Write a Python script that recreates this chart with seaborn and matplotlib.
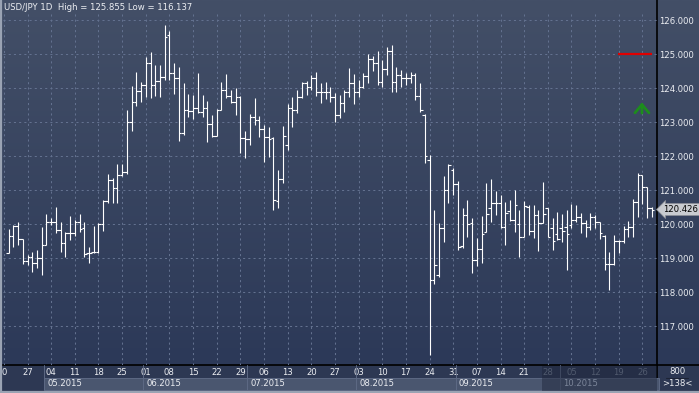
import matplotlib
matplotlib.use("Agg")
import numpy as np
import pandas as pd
import matplotlib.pyplot as plt
import matplotlib.transforms as mtransforms
from matplotlib.patches import Rectangle
import seaborn as sns

# ---------------- data ----------------
title = "USD/JPY 1D  High = 125.855 Low = 116.137"
start_date = "2015-04-21"

opens = [119.16, 119.66, 119.94, 119.56, 118.92, 119.02, 118.86, 118.99, 119.38, 120.07,
         120.07, 119.82, 119.45, 119.73, 119.75, 120.07, 119.87, 119.14, 119.17, 119.17,
         119.99, 120.69, 121.29, 121.05, 121.44, 121.54, 123.00, 123.60, 123.90, 124.10,
         124.75, 124.10, 124.20, 124.33, 125.55, 124.43, 124.30, 122.67, 123.35, 123.33,
         123.40, 123.30, 123.40, 122.93, 122.60, 123.35, 123.94, 123.76, 123.60, 123.75,
         122.52, 122.50, 123.14, 123.06, 122.79, 122.55, 122.52, 120.69, 121.31, 122.32,
         123.40, 123.35, 123.75, 124.14, 124.02, 124.28, 123.89, 123.89, 123.89, 123.75,
         123.20, 123.57, 123.89, 124.14, 123.89, 124.04, 124.35, 124.84, 124.73, 124.19,
         124.55, 125.10, 124.19, 124.38, 124.28, 124.28, 124.38, 123.77, 123.20, 121.88,
         118.35, 118.50, 119.87, 121.00, 121.59, 121.18, 119.35, 120.26, 120.02, 118.94,
         119.26, 119.77, 120.46, 120.61, 120.61, 119.90, 120.39, 120.12, 119.99, 119.61,
         120.51, 119.79, 120.26, 120.04, 120.46, 119.87, 119.72, 119.87, 119.90, 119.97,
         120.12, 120.22, 120.04, 119.92, 120.22, 120.07, 119.65, 118.82, 118.82, 119.51,
         119.51, 119.84, 119.92, 120.66, 121.44, 121.08, 120.46]
highs = [119.84, 119.97, 120.07, 119.56, 119.09, 119.19, 119.24, 119.90, 120.29, 120.17,
         120.49, 120.07, 119.77, 120.24, 120.12, 120.29, 120.07, 119.33, 119.94, 120.04,
         120.70, 121.47, 121.34, 121.76, 121.76, 123.35, 124.06, 124.48, 124.19, 124.92,
         125.07, 124.68, 124.68, 125.855, 125.68, 124.73, 124.63, 124.16, 123.82, 123.80,
         124.43, 123.80, 123.63, 123.20, 123.37, 124.19, 124.40, 123.94, 123.99, 123.76,
         122.75, 123.25, 123.70, 123.18, 122.91, 122.86, 122.57, 121.59, 122.88, 123.53,
         123.75, 123.94, 124.19, 124.20, 124.38, 124.46, 124.14, 124.19, 124.04, 123.84,
         123.79, 123.94, 124.60, 124.40, 124.24, 124.43, 125.00, 124.94, 125.10, 124.82,
         125.22, 125.27, 124.63, 124.53, 124.43, 124.48, 124.45, 124.14, 123.23, 122.03,
         120.41, 120.02, 121.41, 121.76, 121.64, 121.26, 120.46, 120.71, 120.17, 119.58,
         120.23, 121.22, 121.31, 120.97, 120.85, 120.66, 120.72, 121.00, 120.41, 120.68,
         120.56, 120.56, 120.41, 121.24, 120.46, 120.17, 120.36, 120.29, 120.41, 120.58,
         120.56, 120.31, 120.12, 120.33, 120.26, 120.07, 119.68, 119.19, 119.68, 119.53,
         119.94, 120.10, 120.75, 121.49, 121.44, 121.08, 120.51]
lows = [119.14, 119.33, 119.38, 118.82, 118.79, 118.60, 118.70, 118.50, 119.38, 119.97,
        119.75, 119.19, 119.04, 119.53, 119.65, 119.77, 119.02, 118.86, 119.16, 119.16,
        119.79, 120.61, 120.63, 120.63, 121.42, 121.47, 122.75, 123.47, 123.60, 123.75,
        123.72, 123.76, 123.75, 124.25, 124.25, 123.82, 122.45, 122.62, 123.14, 123.10,
        123.27, 123.16, 122.42, 122.55, 122.60, 123.35, 123.70, 123.55, 123.20, 122.10,
        121.93, 122.32, 122.91, 122.57, 121.83, 121.98, 120.41, 120.46, 121.22, 122.18,
        122.84, 123.26, 123.70, 123.80, 123.94, 123.77, 123.55, 123.67, 123.60, 123.01,
        123.11, 123.30, 123.75, 123.53, 123.75, 124.00, 124.14, 124.51, 124.09, 124.04,
        124.38, 123.89, 123.89, 124.04, 124.09, 124.14, 123.65, 123.30, 121.80, 116.137,
        118.25, 118.45, 119.48, 120.63, 120.85, 119.23, 119.28, 119.63, 118.57, 118.76,
        118.84, 119.77, 120.07, 120.26, 119.87, 119.38, 120.10, 119.77, 119.04, 119.61,
        119.68, 119.58, 119.22, 120.02, 119.63, 119.23, 119.53, 119.48, 118.65, 119.87,
        120.07, 119.73, 119.61, 119.82, 119.87, 119.55, 118.65, 118.06, 118.79, 119.14,
        119.43, 119.61, 119.61, 120.22, 120.59, 120.17, 120.22]
closes = [119.66, 119.94, 119.56, 118.92, 119.02, 118.86, 118.99, 119.38, 120.07, 120.07,
          119.82, 119.45, 119.73, 119.75, 120.07, 119.84, 119.13, 119.14, 119.17, 119.99,
          120.69, 121.29, 121.05, 121.44, 121.54, 123.00, 123.60, 123.90, 124.10, 124.75,
          124.10, 124.20, 124.33, 125.50, 124.43, 124.30, 122.67, 123.35, 123.33, 123.40,
          123.30, 123.40, 122.93, 122.60, 123.35, 123.94, 123.76, 123.60, 123.75, 122.52,
          122.50, 123.14, 123.06, 122.79, 122.55, 122.50, 120.70, 121.31, 122.60, 123.40,
          123.35, 123.75, 124.14, 124.02, 124.28, 123.89, 123.89, 123.89, 123.75, 123.20,
          123.57, 123.89, 124.14, 123.89, 124.04, 124.35, 124.84, 124.73, 124.19, 124.55,
          125.10, 124.19, 124.38, 124.28, 124.28, 124.38, 123.77, 123.35, 122.00, 118.35,
          118.79, 119.87, 121.00, 121.73, 121.18, 119.33, 120.26, 119.99, 118.94, 119.26,
          119.70, 120.29, 120.61, 120.61, 119.90, 120.31, 120.12, 120.55, 119.61, 120.54,
          119.79, 120.26, 120.04, 120.29, 119.63, 119.51, 119.55, 119.79, 119.70, 120.12,
          120.22, 120.04, 119.92, 120.22, 120.07, 119.73, 118.82, 118.82, 119.51, 119.51,
          119.84, 119.92, 120.66, 121.44, 121.08, 120.46, 120.426]

price_ticks = [117, 118, 119, 120, 121, 122, 123, 124, 125, 126]
day_labels = ["0", "27", "04", "11", "18", "25", "01", "08", "15", "22", "29",
              "06", "13", "20", "27", "03", "10", "17", "24", "31", "07", "14",
              "21", "28", "05", "12", "19", "26"]
month_labels = ["05.2015", "06.2015", "07.2015", "08.2015", "09.2015", "10.2015"]
month_starts = ["2015-05-01", "2015-06-01", "2015-07-01", "2015-08-03",
                "2015-09-01", "2015-10-01"]
last_price = 120.426
level_line = 125.0
signal_from, signal_to = 123.18, 123.66
footer_top, footer_bottom = "800", ">138<"
dim_from_date = "2015-09-25"

# ---------------- helpers ----------------
W, H = 699, 393


def bar_index(d):
    a = np.datetime64(pd.Timestamp(start_date).strftime("%Y-%m-%d"), "D")
    b = np.datetime64(pd.Timestamp(d).strftime("%Y-%m-%d"), "D")
    return float(np.busday_count(a, b))


monday_pos = [bar_index(d) for d in pd.date_range("2015-04-20", periods=len(day_labels), freq="7D")]
month_pos = [bar_index(d) for d in month_starts]
n = len(opens)

sns.set_theme(style="dark")
plt.rcParams["font.family"] = ["DejaVu Sans"]
FS = 6.1
TXT = "#eceef2"

fig = plt.figure(figsize=(W / 100, H / 100), dpi=100)
fig.patch.set_facecolor("#2e3a56")

# background canvas in pixel coordinates
bg = fig.add_axes([0, 0, 1, 1])
bg.set_xlim(0, W)
bg.set_ylim(H, 0)
bg.axis("off")
top = np.array([67, 79, 103]) / 255
bot = np.array([44, 57, 88]) / 255
t = np.linspace(0, 1, 256)[:, None, None]
grad = top * (1 - t) + bot * t
bg.imshow(grad, extent=(0, W, 365, 0), aspect="auto", zorder=0, interpolation="bilinear")
bg.add_patch(Rectangle((0, 365), W, 28, fc="#2d3853", ec="none", zorder=1))
bg.plot([0, W], [365, 365], color="#000000", lw=1.2, zorder=5)
bg.plot([657, 657], [0, 391], color="#000000", lw=1.2, zorder=5)
bg.plot([1, 1], [0, H], color="#9aa3b3", lw=1.6, zorder=6)
bg.plot([0, W], [392, 392], color="#9aa3b3", lw=1.6, zorder=6)
bg.plot([666, 688], [378, 378], color="#1d2436", lw=0.8, zorder=6)
bg.text(677, 372, footer_top, color=TXT, fontsize=FS, ha="center", va="center", zorder=7)
bg.text(677, 384, footer_bottom, color=TXT, fontsize=FS, ha="center", va="center", zorder=7)
bg.text(3.5, 8, title, color=TXT, fontsize=FS, ha="left", va="center", zorder=7)

# main price axes
y0, y1 = 126 - (365 - 20) / 34.0, 126 + (20 - 13) / 34.0
step = 4.73
x_first = 8.6
ax = fig.add_axes([3 / W, (H - 365) / H, 654 / W, 352 / H])
ax.set_facecolor("none")
ax.set_xlim((3 - x_first) / step, (657 - x_first) / step)
ax.set_ylim(y0, y1)
for s in ax.spines.values():
    s.set_visible(False)

ax.grid(True, color="#63718f", linestyle=(0, (2, 3)), lw=0.75)
ax.set_axisbelow(True)

# OHLC bars via seaborn lineplot (one unit per segment)
half = 0.55
rows = []
for i in range(n):
    rows += [(i, i, lows[i], "v"), (i, i, highs[i], "v")]
    rows += [(i, i - half, opens[i], "o"), (i, i, opens[i], "o")]
    rows += [(i, i, closes[i], "c"), (i, i + half, closes[i], "c")]
df = pd.DataFrame(rows, columns=["bar", "x", "price", "part"])
df["seg"] = df["bar"].astype(str) + df["part"]
sns.lineplot(data=df, x="x", y="price", units="seg", estimator=None, sort=False,
             color="white", lw=0.8, ax=ax, legend=False, zorder=4,
             solid_capstyle="butt")
for ln in ax.get_lines():
    ln.set_snap(True)
ax.set_xlabel("")
ax.set_ylabel("")

# level line and signal arrow
ax.hlines(level_line, 128.9, 136.0, color="#e00000", lw=1.6, zorder=5)
ax.annotate("", xy=(133.9, signal_to), xytext=(133.9, signal_from),
            arrowprops=dict(arrowstyle="->,head_length=0.5,head_width=0.42",
                            color="#1d8c1d", lw=2.0), zorder=5)

# axes ticks
ax.yaxis.tick_right()
ax.set_yticks(price_ticks)
ax.set_yticklabels([f"{v:.3f}" for v in price_ticks])
ax.tick_params(axis="y", length=0, pad=1.2, labelsize=FS, labelcolor=TXT)
ax.set_xticks(monday_pos)
ax.set_xticklabels(day_labels)
ax.tick_params(axis="x", length=0, pad=2.4, labelsize=FS, labelcolor=TXT)
dim_idx = bar_index(dim_from_date)
for pos, lab in zip(monday_pos, ax.get_xticklabels()):
    if pos > dim_idx:
        lab.set_color("#7c869a")

# month boxes in date strip
blend = mtransforms.blended_transform_factory(ax.transData, ax.transAxes)
bottom_frac = -(390 - 365) / 352
row_frac = -(378 - 365) / 352
edges = month_pos + [ax.get_xlim()[1] + 1]
for k, lab in enumerate(month_labels):
    xs = edges[k] - 0.5
    xe = edges[k + 1] - 0.5
    ax.add_patch(Rectangle((xs, bottom_frac), xe - xs, row_frac - bottom_frac,
                           transform=blend, fc="#4a566f", ec="#5d6984", lw=0.7,
                           clip_on=False, zorder=1))
    ax.plot([xs, xs], [bottom_frac, 0], transform=blend, color="#5d6984", lw=0.7,
            clip_on=False, zorder=1)
    dim = xs > dim_idx
    ax.annotate(lab, xy=(xs, (bottom_frac + row_frac) / 2), xycoords=blend,
                xytext=(3, 0), textcoords="offset pixels", va="center", ha="left",
                fontsize=FS, color="#7c869a" if dim else TXT, annotation_clip=False)
# dimmed region of the date strip
ax.add_patch(Rectangle((dim_idx - 0.2, bottom_frac - 0.002), ax.get_xlim()[1] - dim_idx + 0.2,
                       -bottom_frac, transform=blend, fc="#1c2438", ec="none", alpha=0.45,
                       clip_on=False, zorder=2))

# last price marker
ax.annotate(f"{last_price:.3f}", xy=(1.0, last_price), xycoords=("axes fraction", "data"),
            xytext=(6, 0), textcoords="offset pixels", va="center", ha="left",
            fontsize=FS, color="#000000", annotation_clip=False,
            bbox=dict(boxstyle="larrow,pad=0.18", fc="#c9cbd0", ec="#8a8d96", lw=0.6))

fig.savefig("out.png", dpi=100, facecolor=fig.get_facecolor())
